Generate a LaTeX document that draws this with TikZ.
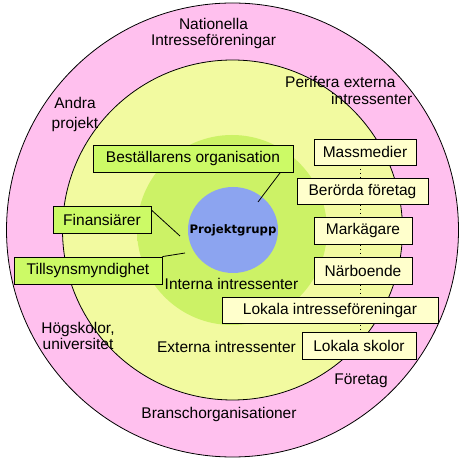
\documentclass[tikz,border=0pt]{standalone}
\usepackage{fontspec}
\usetikzlibrary{shapes.geometric}
\setmainfont{Liberation Sans}
\newfontfamily\pgfont{DejaVu Sans}
\definecolor{pinkc}{RGB}{255,192,238}
\definecolor{yellowc}{RGB}{242,250,160}
\definecolor{greenc}{RGB}{204,242,102}
\definecolor{bluec}{RGB}{140,164,240}
\definecolor{boxg}{RGB}{204,250,102}
\definecolor{boxy}{RGB}{255,255,204}
\pgfdeclareradialshading{greenblob}{\pgfpoint{0bp}{0bp}}{color(0bp)=(greenc); color(44bp)=(greenc); color(50bp)=(yellowc)}
\begin{document}
\begin{tikzpicture}[x=1pt,y=-1pt,
  txt/.style={font=\fontsize{15.5}{16}\selectfont, inner sep=0pt},
  boxbase/.style={draw=black, line width=0.8pt, inner sep=0pt, font=\fontsize{15.5}{16}\selectfont},
  gbox/.style={boxbase, fill=boxg},
  ybox/.style={boxbase, fill=boxy},
  conn/.style={line width=0.8pt},
  dots/.style={line width=0.8pt, dash pattern=on 1.5pt off 2.5pt}]
\useasboundingbox (0,0) rectangle (467,462);
% rings
\path[fill=pinkc, draw=black, line width=0.8pt] (232.5,230) ellipse [x radius=226pt, y radius=227pt];
\path[fill=yellowc, draw=black, line width=0.8pt] (232.5,230) circle [radius=170pt];
\shade[shading=greenblob] (232,230) circle [radius=95pt];
\path[fill=bluec] (233,230) ellipse [x radius=45pt, y radius=43pt];
\node[inner sep=0pt, font=\pgfont\bfseries\fontsize{11.7}{12}\selectfont] (pg) at (233,230) {Projektgrupp};
% ring labels
\node[txt, align=center, font=\fontsize{15.5}{16}\selectfont] (nat) at (213.5,33) {Nationella\\Intresseföreningar};
\node[txt, align=left, anchor=west, font=\fontsize{15.5}{17}\selectfont] (per) at (285,90) {Perifera externa\\\hspace*{46pt}intressenter};
\node[txt, align=center, font=\fontsize{15.5}{20}\selectfont] (andra) at (75,114) {Andra\\projekt};
\node[txt, align=center, font=\fontsize{15.5}{12.5}\selectfont] (hog) at (78,336) {Högskolor,\\universitet};
\node[txt] (intl) at (231.5,284) {Interna intressenter};
\node[txt] (extl) at (226.5,347) {Externa intressenter};
\node[txt] (fore) at (361,381) {Företag};
\node[txt] (bransch) at (219,414) {Branschorganisationer};
% dotted spine behind right boxes
\coordinate (dtop) at (360,165);
\coordinate (dbot) at (360,332);
\draw[dots] (dtop) -- (dbot);
% boxes
\node[gbox, minimum width=200pt, minimum height=27pt] (best) at (193,158.5) {Beställarens organisation};
\node[gbox, minimum width=98pt, minimum height=27pt] (fin) at (102,219.5) {Finansiärer};
\node[gbox, minimum width=148pt, minimum height=27pt] (till) at (88,270.5) {Tillsynsmyndighet};
\node[ybox, minimum width=102pt, minimum height=26pt] (mass) at (365,152) {Massmedier};
\node[ybox, minimum width=131pt, minimum height=26pt] (ber) at (362.5,191) {Berörda företag};
\node[ybox, minimum width=98pt, minimum height=27pt] (mark) at (363,230.5) {Markägare};
\node[ybox, minimum width=98pt, minimum height=27pt] (nar) at (363,270.5) {Närboende};
\node[ybox, minimum width=216pt, minimum height=26pt] (lint) at (330,310) {Lokala intresseföreningar};
\node[ybox, minimum width=114pt, minimum height=27pt] (lsk) at (359,345.5) {Lokala skolor};
% connectors
\coordinate (bestend) at (258,202);
\coordinate (finend) at (180,236);
\coordinate (tillend) at (185,253);
\draw[conn] ([xshift=-13pt]best.south east) -- (bestend);
\draw[conn] ([yshift=9.5pt]fin.east) -- (finend);
\draw[conn] (till.north east) -- (tillend);
\end{tikzpicture}
\end{document}
